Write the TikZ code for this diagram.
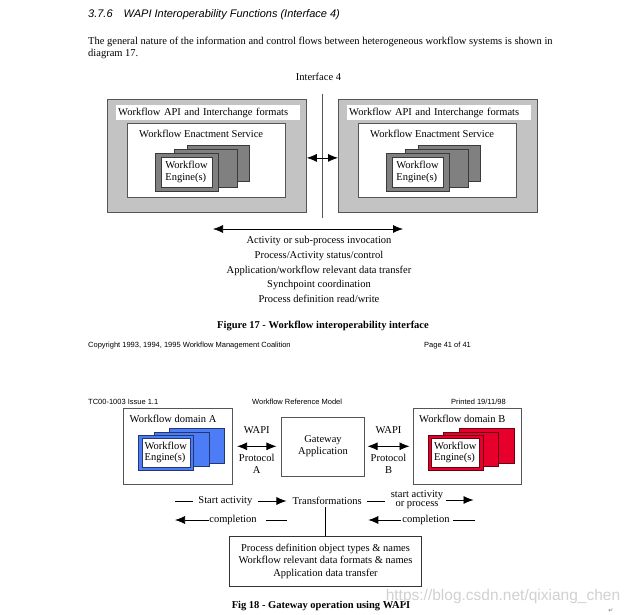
\documentclass[tikz,border=0pt]{standalone}
\usepackage{fontspec}
\setmainfont{Liberation Serif}
\setsansfont{Liberation Sans}
\newfontfamily\markfont{DejaVu Sans}
\usetikzlibrary{positioning, arrows.meta}

\definecolor{boxgray}{HTML}{C3C3C3}
\definecolor{edgegray}{HTML}{555555}
\definecolor{cardgray}{HTML}{808080}
\definecolor{cardblue}{HTML}{4C7DF7}
\definecolor{cardred}{HTML}{E8002C}

\tikzset{
  body/.style={inner sep=0pt, font=\fontsize{10.5}{12}\selectfont},
  pagetext/.style={inner sep=0pt, anchor=west, font=\sffamily\fontsize{7.5}{9}\selectfont},
  caption/.style={inner sep=0pt, font=\bfseries\fontsize{10.5}{12}\selectfont},
  dash line/.style={line width=0.75pt},
  tip/.style={line width=0.75pt, -{Latex[length=10pt,width=8pt]}},
  twoway/.style={line width=0.75pt, {Latex[length=10pt,width=8pt]}-{Latex[length=10pt,width=8pt]}},
  apibox/.style={draw=edgegray, fill=boxgray, line width=0.8pt, minimum width=199pt, minimum height=113pt, inner sep=0pt},
  strip/.style={body, fill=white, text width=180pt, inner xsep=2pt, minimum height=15pt},
  servicebox/.style={draw=edgegray, fill=white, line width=0.6pt, minimum width=158pt, minimum height=74.5pt, inner sep=0pt},
  domainbox/.style={draw=edgegray, fill=white, line width=0.6pt, minimum width=108.5pt, minimum height=76pt, inner sep=0pt},
  card/.style={draw=#1!45!black, fill=#1, line width=0.5pt, minimum width=55pt, minimum height=34.5pt, inner sep=0pt},
  engine/.style={body, draw=#1!45!black, fill=white, line width=0.4pt, align=left, font=\fontsize{10.5}{11.5}\selectfont},
}

\begin{document}
\begin{tikzpicture}[x=1pt, y=-1pt]
\fill[white] (0,0) rectangle (632,615);
\useasboundingbox (0,0) rectangle (632,615);

% page text and figure 17
\node[anchor=west, inner sep=0pt, font=\sffamily\itshape\fontsize{11}{13}\selectfont] (heading) at (88,14.5) {3.7.6\quad WAPI Interoperability Functions (Interface 4)};
\node[body, anchor=north west, align=left] (intro) at (88,37) {The general nature of the information and control flows between heterogeneous workflow systems is shown in\\diagram 17.};
\node[body] (iface) at (318.5,77) {Interface 4};
\coordinate (ifTop) at (322,94);
\coordinate (ifBot) at (322,218);
\draw[edgegray, line width=0.6pt] (ifTop) -- (ifBot);

\foreach \side/\xx in {L/107, R/338} {
  \node[apibox, anchor=north west] (api\side) at (\xx,99) {};
  \node[strip, below right=6pt and 9pt of api\side.north west] (fmt\side) {Workflow API and Interchange formats};
  \node[servicebox, below right=23.7pt and 19.7pt of api\side.north west] (wes\side) {};
  \node[body, below right=7pt and 12.3pt of wes\side.north west] (wesname\side) {Workflow Enactment Service};
  \node[card=cardgray, minimum width=62pt, minimum height=36pt, below right=22.3pt and 60pt of wes\side.north west] (back\side) {};
  \node[card=cardgray, minimum width=62.5pt, minimum height=37.5pt, below right=26.3pt and 47.3pt of wes\side.north west] (mid\side) {};
  \node[card=cardgray, minimum width=62.5pt, minimum height=37.5pt, below right=30.3pt and 28.3pt of wes\side.north west] (front\side) {};
  \node[engine=cardgray, minimum width=51pt, minimum height=30pt, font=\fontsize{10.5}{12}\selectfont] (eng\side) at (front\side.center) {Workflow\\Engine(s)};
}
\draw[twoway] ([yshift=-2pt]apiL.east) -- ([yshift=-2pt]apiR.west);

\coordinate (flowL) at (213,229);
\coordinate (flowR) at (403,229);
\draw[twoway] (flowL) -- (flowR);
\node[body, align=center, font=\fontsize{10.5}{14.8}\selectfont] (flows) at (319,269.5) {Activity or sub-process invocation\\Process/Activity status/control\\Application/workflow relevant data transfer\\Synchpoint coordination\\Process definition read/write};
\node[caption] (fig17) at (323,326) {Figure 17 - Workflow interoperability interface};

\node[pagetext] (copy) at (88,346) {Copyright 1993, 1994, 1995 Workflow Management Coalition};
\node[pagetext] (page) at (424,346) {Page 41 of 41};
\node[pagetext] (issue) at (88,402) {TC00-1003 Issue 1.1};
\node[pagetext] (model) at (252,402) {Workflow Reference Model};
\node[pagetext] (printed) at (451,402) {Printed 19/11/98};

% figure 18
\foreach \side/\xx/\tint in {A/123/cardblue, B/412.5/cardred} {
  \node[domainbox, anchor=north west] (dom\side) at (\xx,408) {};
  \node[body, below right=7pt and 6.5pt of dom\side.north west] (domname\side) {Workflow domain \side};
  \node[card=\tint, below right=20pt and 46pt of dom\side.north west] (back\side) {};
  \node[card=\tint, below right=23.5pt and 30.5pt of dom\side.north west] (mid\side) {};
  \node[card=\tint, below right=27pt and 15pt of dom\side.north west] (front\side) {};
  \node[engine=\tint, minimum width=48pt, minimum height=28.5pt] (eng\side) at (front\side.center) {Workflow\\Engine(s)};
}
\node[draw=edgegray, fill=white, line width=0.6pt, minimum width=82.5pt, minimum height=59pt, body, align=center, font=\fontsize{10.5}{12.3}\selectfont] (gate) at (323,446.3) {Gateway\\Application};
\path
  (domA) edge[twoway, shorten <=5pt, shorten >=5pt] node[body, above=12pt] (wapiA) {WAPI} node[body, align=center, below=8pt, font=\fontsize{10.5}{11.5}\selectfont] (protoA) {Protocol\\A} (gate)
  (gate) edge[twoway, shorten <=3pt, shorten >=3pt] node[body, above=12pt] (wapiB) {WAPI} node[body, align=center, below=8pt, font=\fontsize{10.5}{11.5}\selectfont] (protoB) {Protocol\\B} (domB)
;

\node[body] (trans) at (327.2,501) {Transformations};
\node[body] (startL) at (225.4,501) {Start activity};
\node[body, align=center, font=\fontsize{10.5}{9}\selectfont] (startR) at (417,500) {start activity\\or process};
\coordinate (rowAin) at (175,501);
\coordinate (rowAmid) at (385,501);
\coordinate (rowAout) at (473.5,500);
\draw[dash line] (rowAin) -- ([xshift=-5pt]startL.west);
\draw[tip] ([xshift=5pt]startL.east) -- ([xshift=-6pt]trans.west);
\draw[dash line] ([xshift=5.5pt]trans.east) -- (rowAmid);
\draw[tip] ([xshift=3pt]startR.east) -- (rowAout);

\node[body] (compL) at (233,520) {completion};
\node[body] (compR) at (426,520) {completion};
\coordinate (rowBout) at (175,520);
\coordinate (rowBin) at (287,520);
\coordinate (rowCout) at (368.3,520);
\coordinate (rowCin) at (475,520);
\draw[tip] (compL.west) -- (rowBout);
\draw[dash line] ([xshift=9pt]compL.east) -- (rowBin);
\draw[tip] ([xshift=-1.5pt]compR.west) -- (rowCout);
\draw[dash line] ([xshift=3pt]compR.east) -- (rowCin);

\node[draw=black!80, line width=0.7pt, minimum width=192.5pt, minimum height=49.3pt, body, align=center, font=\fontsize{10.5}{12.5}\selectfont] (defs) at (325.5,561.3) {Process definition object types \& names\\Workflow relevant data formats \& names\\Application data transfer};
\draw[line width=0.6pt, shorten >=2.5pt] (defs.north) -- (defs.north |- trans.south);

\node[caption] (fig18) at (321,606) {Fig 18 - Gateway operation using WAPI};
\node[inner sep=0pt, text=black!18, font=\sffamily\fontsize{15.5}{16}\selectfont] (mark) at (503,596) {https://blog.csdn.net/qixiang\_chen};
\node[inner sep=0pt, text=black!55, font=\markfont\fontsize{6}{6}\selectfont] (ret) at (611,611) {↵};
\end{tikzpicture}
\end{document}
